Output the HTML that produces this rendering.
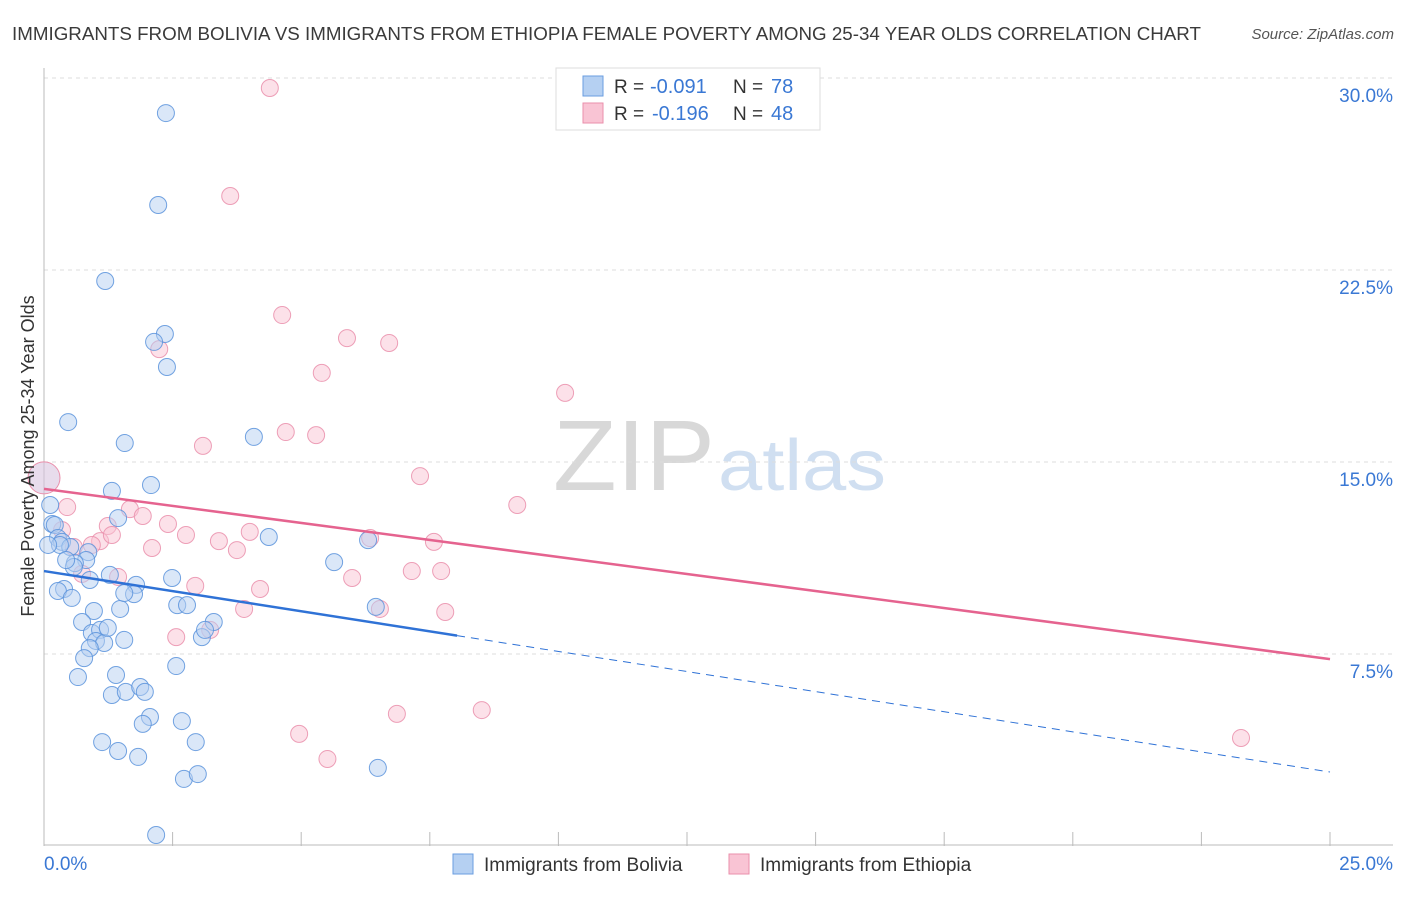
<!DOCTYPE html>
<html><head><meta charset="utf-8"><style>
body{margin:0;background:#fff;font-family:"Liberation Sans",sans-serif;}
svg text{font-family:"Liberation Sans",sans-serif;}
</style></head><body>
<svg width="1406" height="892" viewBox="0 0 1406 892" xmlns="http://www.w3.org/2000/svg">
<text x="12" y="40" font-size="18" fill="#3a3a3a" textLength="1189" lengthAdjust="spacingAndGlyphs">IMMIGRANTS FROM BOLIVIA VS IMMIGRANTS FROM ETHIOPIA FEMALE POVERTY AMONG 25-34 YEAR OLDS CORRELATION CHART</text>
<text x="1394" y="39" font-size="15" fill="#555" font-style="italic" text-anchor="end">Source: ZipAtlas.com</text>
<g><text x="553" y="490" font-size="100" fill="#cfcfcf" font-family="Liberation Serif" textLength="162" lengthAdjust="spacingAndGlyphs" opacity="0.8">ZIP</text><text x="718" y="490" font-size="72" fill="#c5d8ee" textLength="168" lengthAdjust="spacingAndGlyphs" opacity="0.8">atlas</text></g>
<g id="grid"></g><g id="axes"></g><g id="marks"></g>
<text x="34" y="456" font-size="18" fill="#333" text-anchor="middle" transform="rotate(-90 34 456)">Female Poverty Among 25-34 Year Olds</text>
<g>
<rect x="556" y="68" width="264" height="62" fill="#fff" stroke="#ddd"/>
<rect x="583" y="76" width="20" height="20" fill="#b5d0f2" stroke="#6a9ee0"/>
<rect x="583" y="103" width="20" height="20" fill="#f9c4d4" stroke="#ea8fab"/>
<text x="614" y="93" font-size="19" fill="#333">R =</text><text x="650" y="93" font-size="20" fill="#3a78d4">-0.091</text>
<text x="733" y="93" font-size="19" fill="#333">N =</text><text x="771" y="93" font-size="20" fill="#3a78d4">78</text>
<text x="614" y="120" font-size="19" fill="#333">R =</text><text x="652" y="120" font-size="20" fill="#3a78d4">-0.196</text>
<text x="733" y="120" font-size="19" fill="#333">N =</text><text x="771" y="120" font-size="20" fill="#3a78d4">48</text>
</g>
<g>
<rect x="453" y="854" width="20" height="20" fill="#b5d0f2" stroke="#6a9ee0"/>
<text x="484" y="871" font-size="19" fill="#333">Immigrants from Bolivia</text>
<rect x="729" y="854" width="20" height="20" fill="#f9c4d4" stroke="#ea8fab"/>
<text x="760" y="871" font-size="19" fill="#333">Immigrants from Ethiopia</text>
</g>
</svg>
<script>
const xTickLabels=["0.0%","25.0%"];
const yTicks=[7.5,15,22.5,30];
const yTickLabels=["7.5%","15.0%","22.5%","30.0%"];
const boliviaX=[2.37,2.22,1.19,2.35,2.14,2.39,0.47,1.57,4.08,1.32,2.08,0.12,0.16,0.21,1.44,4.37,6.30,0.27,0.35,0.51,0.86,0.82,0.60,1.28,2.49,5.64,1.79,0.39,0.27,0.54,0.97,1.48,1.75,1.56,2.59,2.78,3.30,0.74,0.93,1.09,1.01,1.17,1.24,1.56,3.07,3.13,0.89,0.78,2.57,0.66,1.40,1.32,1.59,1.87,1.96,2.06,1.92,2.68,1.13,1.44,1.83,2.95,2.72,2.99,6.49,2.18,6.45,0.58,0.31,0.43,0.08,0.89];
const boliviaY=[28.63,25.04,22.07,20.0,19.69,18.71,16.56,15.74,15.98,13.87,14.10,13.32,12.58,12.54,12.81,12.07,11.95,12.03,11.88,11.68,11.48,11.17,11.05,10.59,10.47,11.09,10.20,10.04,9.96,9.69,9.18,9.26,9.84,9.88,9.41,9.41,8.75,8.75,8.32,8.44,8.01,7.93,8.52,8.05,8.16,8.44,7.73,7.34,7.03,6.60,6.68,5.90,6.02,6.21,6.02,5.04,4.77,4.88,4.06,3.71,3.48,4.06,2.62,2.81,3.05,0.43,9.34,10.90,11.76,11.17,11.76,10.39];
const ethiopiaX=[4.39,3.62,4.63,5.89,6.71,2.24,5.40,10.13,4.70,5.29,3.09,7.31,9.20,0.45,1.67,1.92,1.24,2.41,2.76,4.00,3.40,6.34,7.58,1.09,0.93,2.10,3.75,0.58,7.15,7.72,0.74,1.44,5.99,2.94,4.20,3.89,6.53,7.80,2.57,3.23,6.86,8.51,4.96,5.51,23.27,0.35,1.32];
const ethiopiaY=[29.61,25.39,20.74,19.84,19.65,19.41,18.48,17.70,16.17,16.05,15.63,14.45,13.32,13.24,13.16,12.89,12.50,12.58,12.15,12.27,11.91,12.03,11.88,11.91,11.76,11.64,11.56,11.68,10.74,10.74,10.63,10.51,10.47,10.16,10.04,9.26,9.26,9.14,8.16,8.44,5.16,5.31,4.38,3.40,4.22,12.34,12.15];
const bigPoint=[0,14.38];
const boliviaTrend=[10.74,2.89,8.03];
const ethiopiaTrend=[13.95,7.30];
const NS="http://www.w3.org/2000/svg";
const X=v=>44+v/25*1286, Y=v=>846-v/7.5*192;
function mk(tag,attrs,parent){const e=document.createElementNS(NS,tag);for(const k in attrs)e.setAttribute(k,attrs[k]);parent.appendChild(e);return e;}
const grid=document.getElementById('grid'),axes=document.getElementById('axes'),marks=document.getElementById('marks');
yTicks.forEach((t,i)=>{
 const l=mk('line',{x1:44,x2:1393,y1:Y(t),y2:Y(t),stroke:'#ddd','stroke-dasharray':'4,4'},grid);
 
 
 const tx=mk('text',{x:1393,y:Y(t)+24,'font-size':19,fill:'#3a78d4','text-anchor':'end'},axes);
 tx.textContent=yTickLabels[i];
 
 
});
const a1=mk('line',{x1:44,x2:44,y1:68,y2:846,stroke:'#bbb'},axes);


const a2=mk('line',{x1:44,x2:1393,y1:845,y2:845,stroke:'#bbb'},axes);


for(let i=0;i<=10;i++){const t=mk('line',{x1:X(i*2.5),x2:X(i*2.5),y1:832,y2:846,stroke:'#bbb'},axes);
 
 }
const xl0=mk('text',{x:44,y:870,'font-size':19,fill:'#3a78d4'},axes);xl0.textContent=xTickLabels[0];


const xl1=mk('text',{x:1393,y:870,'font-size':19,fill:'#3a78d4','text-anchor':'end'},axes);xl1.textContent=xTickLabels[1];


function dots(xs,ys,fill,stroke,name){xs.forEach((x,i)=>{const c=mk('circle',{cx:X(x),cy:Y(ys[i]),r:8.5,fill:fill,'fill-opacity':0.5,stroke:stroke,'stroke-width':1,'stroke-opacity':0.85},marks);
 
 });}
dots(ethiopiaX,ethiopiaY,'#f9c4d4','#ea8fab','ethiopia-point');
dots(boliviaX,boliviaY,'#b5d0f2','#5b93dc','bolivia-point');
const bp=mk('circle',{cx:X(bigPoint[0]),cy:Y(bigPoint[1]),r:16,fill:'#d9c5e0','fill-opacity':0.6,stroke:'#ea8fab'},marks);


const slope=(boliviaTrend[1]-boliviaTrend[0])/25;
const tb=mk('line',{x1:X(0),y1:Y(boliviaTrend[0]),x2:X(boliviaTrend[2]),y2:Y(boliviaTrend[0]+slope*boliviaTrend[2]),stroke:'#2f72d6','stroke-width':2.5},marks);


const td=mk('line',{x1:X(boliviaTrend[2]),y1:Y(boliviaTrend[0]+slope*boliviaTrend[2]),x2:X(25),y2:Y(boliviaTrend[1]),stroke:'#2f72d6','stroke-width':1,'stroke-dasharray':'8,6'},marks);


const te=mk('line',{x1:X(0),y1:Y(ethiopiaTrend[0]),x2:X(25),y2:Y(ethiopiaTrend[1]),stroke:'#e5638f','stroke-width':2.5},marks);


</script>
</body></html>
